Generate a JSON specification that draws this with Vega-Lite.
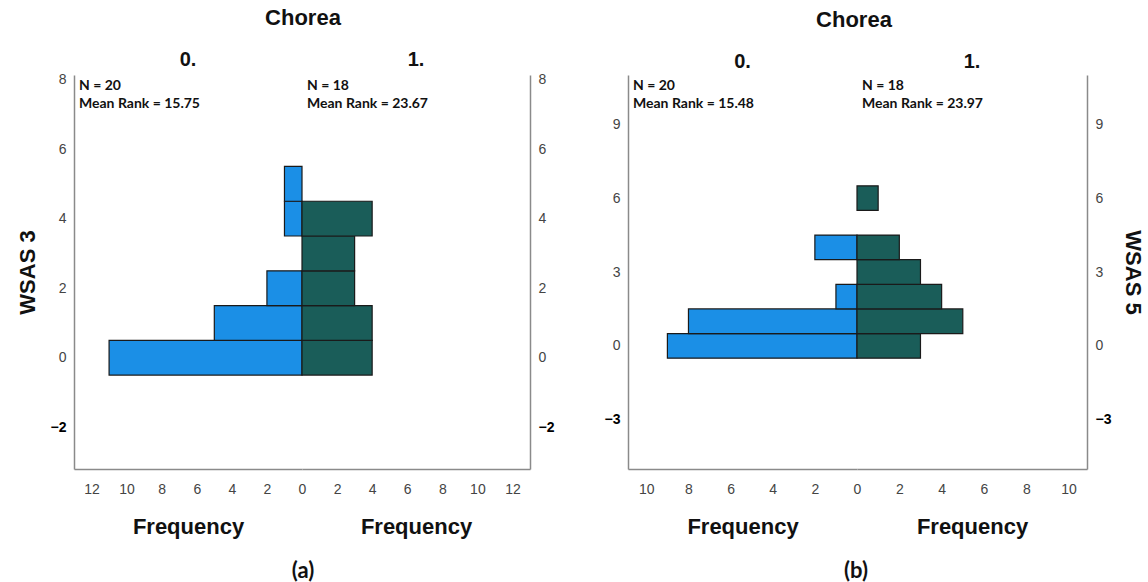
{
  "$schema": "https://vega.github.io/schema/vega-lite/v6.json",
  "padding": {"left": 16, "top": 6, "right": 0, "bottom": 0},
  "background": "white",
  "config": {
    "view": {"stroke": null},
    "axis": {
      "grid": false, "ticks": false, "domainColor": "#8a8a8a", "domainWidth": 1.5, "labelOverlap": false, "labelFlush": false, "labelBound": false, "tickCount": 30, "format": "d",
      "labelColor": "#444444", "labelFont": "Liberation Sans", "labelFontSize": 14,
      "titleFont": "Liberation Sans", "titleFontSize": 22, "titleFontWeight": "bold", "titleColor": "#111111"
    },
    "axisY": {
      "labelColor": {"condition": {"test": "datum.value < 0", "value": "#000000"}, "value": "#444444"},
      "labelFontWeight": {"condition": {"test": "datum.value < 0", "value": "bold"}, "value": "normal"}
    },
    "title": {"font": "Liberation Sans", "fontWeight": "bold", "color": "#111111", "anchor": "middle"}
  },
  "datasets": {
    "bars": [
      {"panel": "a", "chorea": "0", "start": -0.5, "end": 0.5, "count": 11},
      {"panel": "a", "chorea": "0", "start": 0.5, "end": 1.5, "count": 5},
      {"panel": "a", "chorea": "0", "start": 1.5, "end": 2.5, "count": 2},
      {"panel": "a", "chorea": "0", "start": 3.5, "end": 4.5, "count": 1},
      {"panel": "a", "chorea": "0", "start": 4.5, "end": 5.5, "count": 1},
      {"panel": "a", "chorea": "1", "start": -0.5, "end": 0.5, "count": 4},
      {"panel": "a", "chorea": "1", "start": 0.5, "end": 1.5, "count": 4},
      {"panel": "a", "chorea": "1", "start": 1.5, "end": 2.5, "count": 3},
      {"panel": "a", "chorea": "1", "start": 2.5, "end": 3.5, "count": 3},
      {"panel": "a", "chorea": "1", "start": 3.5, "end": 4.5, "count": 4},
      {"panel": "b", "chorea": "0", "start": -0.5, "end": 0.5, "count": 9},
      {"panel": "b", "chorea": "0", "start": 0.5, "end": 1.5, "count": 8},
      {"panel": "b", "chorea": "0", "start": 1.5, "end": 2.5, "count": 1},
      {"panel": "b", "chorea": "0", "start": 3.5, "end": 4.5, "count": 2},
      {"panel": "b", "chorea": "1", "start": -0.5, "end": 0.5, "count": 3},
      {"panel": "b", "chorea": "1", "start": 0.5, "end": 1.5, "count": 5},
      {"panel": "b", "chorea": "1", "start": 1.5, "end": 2.5, "count": 4},
      {"panel": "b", "chorea": "1", "start": 2.5, "end": 3.5, "count": 3},
      {"panel": "b", "chorea": "1", "start": 3.5, "end": 4.5, "count": 2},
      {"panel": "b", "chorea": "1", "start": 5.5, "end": 6.5, "count": 1}
    ],
    "ann": [
      {"panel": "a", "chorea": "0", "lines": ["N = 20", "Mean Rank = 15.75"]},
      {"panel": "a", "chorea": "1", "lines": ["N = 18", "Mean Rank = 23.67"]},
      {"panel": "b", "chorea": "0", "lines": ["N = 20", "Mean Rank = 15.48"]},
      {"panel": "b", "chorea": "1", "lines": ["N = 18", "Mean Rank = 23.97"]}
    ]
  },
  "spacing": 50,
  "hconcat": [
    {
      "title": {"text": "(a)", "orient": "bottom", "font": "Lato", "fontSize": 22, "offset": 24, "dx": 18},
      "vconcat": [
        {
          "title": {"text": "Chorea", "fontSize": 22, "offset": 20, "dx": 18},
          "bounds": "flush",
          "spacing": 0,
          "hconcat": [
            {
              "width": 228, "height": 394,
              "title": {"text": "0.", "fontSize": 20, "offset": 3},
              "layer": [
                {
                  "data": {"name": "bars"},
                  "transform": [{"filter": "datum.panel == 'a' && datum.chorea == '0'"}],
                  "mark": {"type": "bar", "fill": "#1b8fe6", "stroke": "#1a1a1a", "strokeWidth": 1.2},
                  "encoding": {
                    "y": {"field": "start", "type": "quantitative", "scale": {"domain": [-3.2, 8.13], "nice": false, "zero": false},
                          "axis": {"values": [-2, 0, 2, 4, 6, 8], "title": "WSAS 3", "labelPadding": 8, "titlePadding": 11, "format": "d"}},
                    "y2": {"field": "end"},
                    "x": {"field": "count", "type": "quantitative", "scale": {"domain": [0, 13], "reverse": true, "nice": false},
                          "axis": {"values": [2, 4, 6, 8, 10, 12], "title": "Frequency", "labelPadding": 13, "titlePadding": 20, "format": "d"}},
                    "x2": {"datum": 0}
                  }
                },
                {
                  "data": {"name": "ann"},
                  "transform": [{"filter": "datum.panel == 'a' && datum.chorea == '0'"}],
                  "mark": {"type": "text", "align": "left", "baseline": "top", "dx": 5, "dy": 4, "font": "Lato", "fontWeight": "bold", "fontSize": 14, "lineHeight": 18, "color": "#111111"},
                  "encoding": {"text": {"field": "lines"}, "x": {"datum": 13}, "y": {"datum": 8.13}}
                }
              ]
            },
            {
              "width": 228, "height": 394,
              "title": {"text": "1.", "fontSize": 20, "offset": 3},
              "layer": [
                {
                  "data": {"name": "bars"},
                  "transform": [{"filter": "datum.panel == 'a' && datum.chorea == '1'"}],
                  "mark": {"type": "bar", "fill": "#1a5d59", "stroke": "#1a1a1a", "strokeWidth": 1.2},
                  "encoding": {
                    "y": {"field": "start", "type": "quantitative", "scale": {"domain": [-3.2, 8.13], "nice": false, "zero": false},
                          "axis": {"orient": "right", "values": [-2, 0, 2, 4, 6, 8], "title": null, "labelPadding": 8, "format": "d"}},
                    "y2": {"field": "end"},
                    "x": {"field": "count", "type": "quantitative", "scale": {"domain": [0, 13], "nice": false},
                          "axis": {"values": [0, 2, 4, 6, 8, 10, 12], "title": "Frequency", "labelPadding": 13, "titlePadding": 20, "tickCount": 30, "format": "d"}},
                    "x2": {"datum": 0}
                  }
                },
                {
                  "mark": {"type": "rule", "color": "#333333", "strokeWidth": 1.3},
                  "encoding": {"x": {"datum": 0}}
                },
                {
                  "data": {"name": "ann"},
                  "transform": [{"filter": "datum.panel == 'a' && datum.chorea == '1'"}],
                  "mark": {"type": "text", "align": "left", "baseline": "top", "dx": 5, "dy": 4, "font": "Lato", "fontWeight": "bold", "fontSize": 14, "lineHeight": 18, "color": "#111111"},
                  "encoding": {"text": {"field": "lines"}, "x": {"datum": 0}, "y": {"datum": 8.13}}
                }
              ]
            }
          ]
        }
      ]
    },
    {
      "title": {"text": "(b)", "orient": "bottom", "font": "Lato", "fontSize": 22, "offset": 24, "dx": -18},
      "vconcat": [
        {
          "title": {"text": "Chorea", "fontSize": 22, "offset": 20, "dx": -20},
          "bounds": "flush",
          "spacing": 0,
          "hconcat": [
            {
              "width": 229, "height": 394,
              "title": {"text": "0.", "fontSize": 20, "offset": 3},
              "layer": [
                {
                  "data": {"name": "bars"},
                  "transform": [{"filter": "datum.panel == 'b' && datum.chorea == '0'"}],
                  "mark": {"type": "bar", "fill": "#1b8fe6", "stroke": "#1a1a1a", "strokeWidth": 1.2},
                  "encoding": {
                    "y": {"field": "start", "type": "quantitative", "scale": {"domain": [-5, 11], "nice": false, "zero": false},
                          "axis": {"values": [-3, 0, 3, 6, 9], "title": null, "labelPadding": 8, "format": "d"}},
                    "y2": {"field": "end"},
                    "x": {"field": "count", "type": "quantitative", "scale": {"domain": [0, 10.87], "reverse": true, "nice": false},
                          "axis": {"values": [2, 4, 6, 8, 10], "title": "Frequency", "labelPadding": 13, "titlePadding": 20, "format": "d"}},
                    "x2": {"datum": 0}
                  }
                },
                {
                  "data": {"name": "ann"},
                  "transform": [{"filter": "datum.panel == 'b' && datum.chorea == '0'"}],
                  "mark": {"type": "text", "align": "left", "baseline": "top", "dx": 5, "dy": 4, "font": "Lato", "fontWeight": "bold", "fontSize": 14, "lineHeight": 18, "color": "#111111"},
                  "encoding": {"text": {"field": "lines"}, "x": {"datum": 10.87}, "y": {"datum": 11}}
                }
              ]
            },
            {
              "width": 230, "height": 394,
              "title": {"text": "1.", "fontSize": 20, "offset": 3},
              "layer": [
                {
                  "data": {"name": "bars"},
                  "transform": [{"filter": "datum.panel == 'b' && datum.chorea == '1'"}],
                  "mark": {"type": "bar", "fill": "#1a5d59", "stroke": "#1a1a1a", "strokeWidth": 1.2},
                  "encoding": {
                    "y": {"field": "start", "type": "quantitative", "scale": {"domain": [-5, 11], "nice": false, "zero": false},
                          "axis": {"orient": "right", "values": [-3, 0, 3, 6, 9], "title": "WSAS 5", "labelPadding": 8, "titlePadding": 10, "format": "d"}},
                    "y2": {"field": "end"},
                    "x": {"field": "count", "type": "quantitative", "scale": {"domain": [0, 10.87], "nice": false},
                          "axis": {"values": [0, 2, 4, 6, 8, 10], "title": "Frequency", "labelPadding": 13, "titlePadding": 20, "format": "d"}},
                    "x2": {"datum": 0}
                  }
                },
                {
                  "mark": {"type": "rule", "color": "#333333", "strokeWidth": 1.3},
                  "encoding": {"x": {"datum": 0}}
                },
                {
                  "data": {"name": "ann"},
                  "transform": [{"filter": "datum.panel == 'b' && datum.chorea == '1'"}],
                  "mark": {"type": "text", "align": "left", "baseline": "top", "dx": 5, "dy": 4, "font": "Lato", "fontWeight": "bold", "fontSize": 14, "lineHeight": 18, "color": "#111111"},
                  "encoding": {"text": {"field": "lines"}, "x": {"datum": 0}, "y": {"datum": 11}}
                }
              ]
            }
          ]
        }
      ]
    }
  ]
}
